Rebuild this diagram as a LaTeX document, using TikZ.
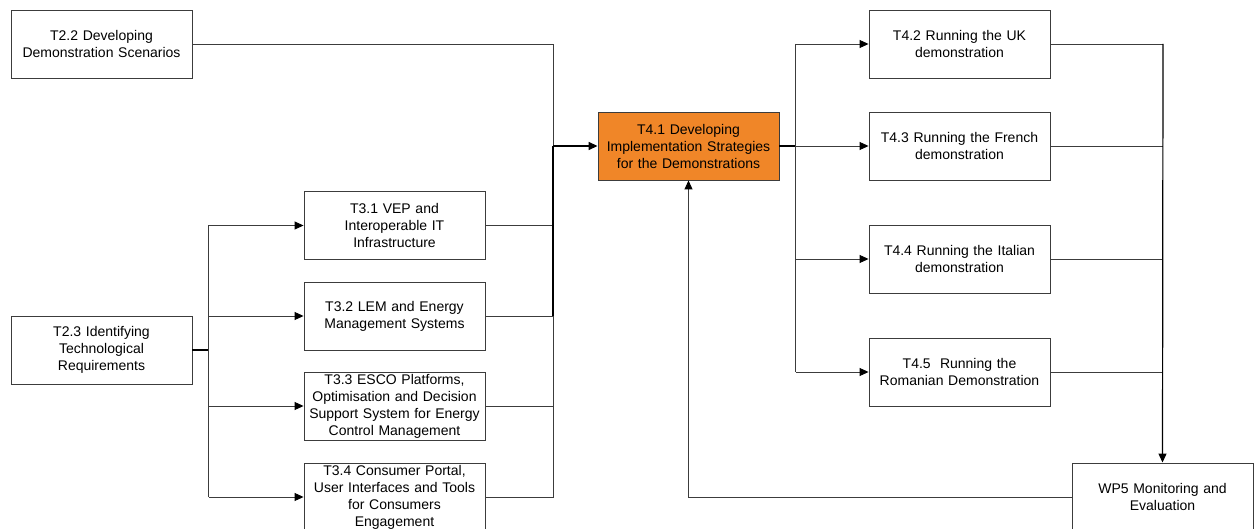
\documentclass[tikz,border=0pt]{standalone}
\usepackage{fontspec}
\setmainfont{Liberation Sans}
\usetikzlibrary{arrows.meta}
\definecolor{lineg}{RGB}{60,60,60}
\definecolor{orangefill}{RGB}{240,134,40}
\begin{document}
\begin{tikzpicture}[x=1pt,y=-1pt,
  box/.style={draw=lineg,line width=0.9pt,fill=white,rectangle,minimum width=181pt,minimum height=68pt,
    text width=180pt,align=center,inner sep=0pt,font=\fontsize{14}{17}\selectfont},
  conn/.style={draw=lineg,line width=0.9pt},
  thick conn/.style={draw=black,line width=1.5pt},
  arr/.style={-{Triangle[length=9pt,width=8pt,fill=black,color=black]}}]
\useasboundingbox (0,0) rectangle (1256,529);
% nodes
\node[box] (t22) at (101.5,44) {T2.2 Developing\\Demonstration Scenarios};
\node[box] (t23) at (101.5,350) {T2.3 Identifying\\Technological\\Requirements};
\node[box] (t31) at (394.5,225.5) {T3.1 VEP and\\Interoperable IT\\Infrastructure};
\node[box] (t32) at (394.5,316) {T3.2 LEM and Energy\\Management Systems};
\node[box] (t33) at (394.5,406) {T3.3 ESCO Platforms,\\Optimisation and Decision\\Support System for Energy\\Control Management};
\node[box] (t34) at (394.5,497) {T3.4 Consumer Portal,\\User Interfaces and Tools\\for Consumers\\Engagement};
\node[box,fill=orangefill] (t41) at (688.5,146) {T4.1 Developing\\Implementation Strategies\\for the Demonstrations};
\node[box] (t42) at (959.5,44) {T4.2 Running the UK\\demonstration};
\node[box] (t43) at (959.5,146) {T4.3 Running the French\\demonstration};
\node[box] (t44) at (959.5,259) {T4.4 Running the Italian\\demonstration};
\node[box] (t45) at (959.5,372) {T4.5\ \ Running the\\Romanian Demonstration};
\node[box] (wp5) at (1162.5,497) {WP5 Monitoring and\\Evaluation};
% bus coordinates
\coordinate (lb1) at (208.5,350);
\coordinate (lbtop) at (208.5,225.5);
\coordinate (lbbot) at (208.5,497);
\coordinate (mb) at (553,146);
\coordinate (mbtop) at (553,44);
\coordinate (mbbot) at (553,497);
\coordinate (rb) at (795.5,146);
\coordinate (rbtop) at (795.5,44);
\coordinate (rbbot) at (795.5,372);
\coordinate (fb) at (1163,44);
\coordinate (fret) at (688.5,497);
% left fan-out
\draw[thick conn] (t23.east) -- (lb1);
\draw[conn] (lbtop) -- (lbbot);
\draw[conn,arr] (lbtop) -- (t31.west);
\draw[conn,arr] (t32.west -| lb1) -- (t32.west);
\draw[conn,arr] (t33.west -| lb1) -- (t33.west);
\draw[conn,arr] (lbbot) -- (t34.west);
% merge into T4.1
\draw[conn] (t22.east) -- (mbtop) -- (mb);
\draw[conn] (t31.east) -- (t31.east -| mb);
\draw[conn] (t32.east) -- (t32.east -| mb);
\draw[conn] (t33.east) -- (t33.east -| mb);
\draw[conn] (t34.east) -- (mbbot) -- (t32.east -| mb);
\draw[thick conn] (t32.east -| mb) -- (mb);
\draw[thick conn,arr] (mb) -- (t41.west);
% fan-out to T4.x
\draw[thick conn] (t41.east) -- (rb);
\draw[conn] (rbtop) -- (rbbot);
\draw[conn,arr] (rbtop) -- (t42.west);
\draw[conn,arr] (rb) -- (t43.west);
\draw[conn,arr] (t44.west -| rb) -- (t44.west);
\draw[conn,arr] (rbbot) -- (t45.west);
% merge into WP5
\draw[conn] (t42.east) -- (fb);
\draw[conn] (t43.east) -- (t43.east -| fb);
\draw[conn] (t44.east) -- (t44.east -| fb);
\draw[conn] (t45.east) -- (t45.east -| fb);
\draw[thick conn,line width=1.2pt,arr] (fb) -- (wp5.north);
% feedback
\draw[conn,arr] (wp5.west) -- (fret) -- (t41.south);
\end{tikzpicture}
\end{document}
